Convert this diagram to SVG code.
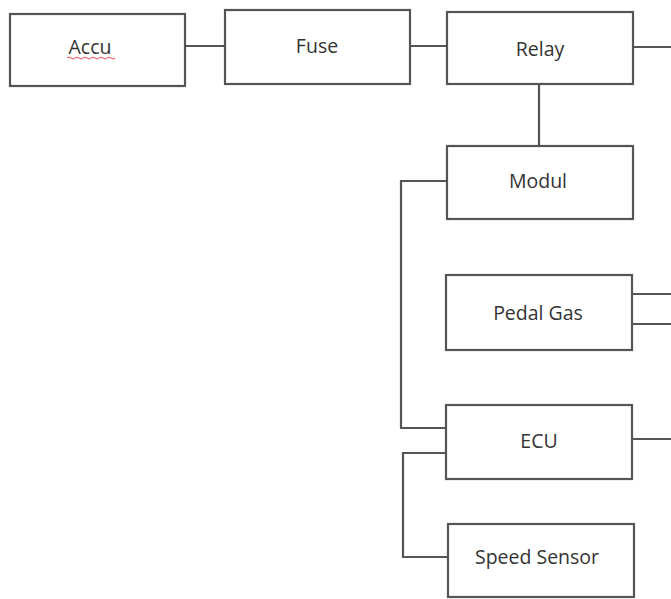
<svg xmlns="http://www.w3.org/2000/svg" width="671" height="599" viewBox="0 0 671 599">
<style>
.box{fill:#fff;stroke:#555;stroke-width:2.2}
.wire{fill:none;stroke:#555;stroke-width:2.2}
text{font-family:"Open Sans","Liberation Sans",sans-serif;font-size:19.5px;fill:#333;text-anchor:middle;dominant-baseline:central}
</style>
<rect width="671" height="599" fill="#fff"/>
<g id="connectors">
<path class="wire" d="M185 46H225"/>
<path class="wire" d="M410 46H447"/>
<path class="wire" d="M633 47H671"/>
<path class="wire" d="M539 84V146"/>
<path class="wire" d="M447 181H401V428H446"/>
<path class="wire" d="M632 294H671"/>
<path class="wire" d="M632 324H671"/>
<path class="wire" d="M446 453H403V557H448"/>
<path class="wire" d="M632 439H671"/>
</g>
<g id="accu"><rect class="box" x="10" y="14" width="175" height="72"/><text x="90" y="46">Accu</text><path d="M67 58q2-2 4 0t4 0t4 0t4 0t4 0t4 0t4 0t4 0t4 0t4 0t4 0t4 0" fill="none" stroke="#e05050" stroke-width="1"/></g>
<g id="fuse"><rect class="box" x="225" y="10" width="185" height="74"/><text x="317" y="45">Fuse</text></g>
<g id="relay"><rect class="box" x="447" y="12" width="186" height="72"/><text x="540" y="48">Relay</text></g>
<g id="modul"><rect class="box" x="447" y="146" width="186" height="73"/><text x="538" y="180">Modul</text></g>
<g id="pedal"><rect class="box" x="446" y="275" width="186" height="75"/><text x="538" y="312">Pedal Gas</text></g>
<g id="ecu"><rect class="box" x="446" y="405" width="186" height="74"/><text x="539" y="440">ECU</text></g>
<g id="speed"><rect class="box" x="448" y="524" width="186" height="73"/><text x="537" y="556">Speed Sensor</text></g>
</svg>
